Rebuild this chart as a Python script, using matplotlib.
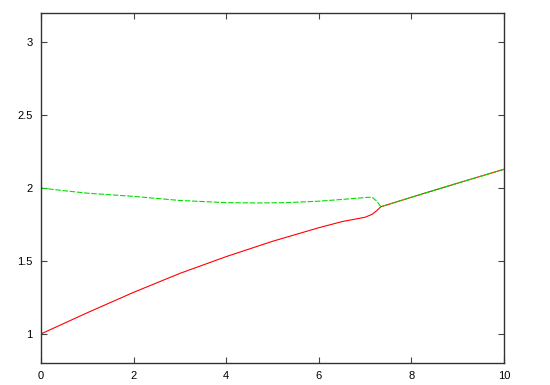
import matplotlib
matplotlib.use("Agg")
import numpy as np
from matplotlib import pyplot as plt

# values
red_x = [0, 1, 2, 3, 4, 5, 6, 6.5, 7, 7.15, 7.25, 7.34, 8, 9, 10]
red_y = [1.0, 1.145, 1.285, 1.415, 1.53, 1.635, 1.728, 1.77, 1.80, 1.82, 1.845, 1.872,
         1.937, 2.034, 2.129]

green_x = [0, 0.5, 1, 2, 3, 4, 4.7, 5.3, 6, 6.5, 7, 7.15, 7.25, 7.34, 8, 9, 10]
green_y = [2.0, 1.982, 1.965, 1.943, 1.915, 1.90, 1.898, 1.90, 1.91, 1.922, 1.935, 1.938,
           1.91, 1.872, 1.937, 2.034, 2.129]

x_ticks = [0, 2, 4, 6, 8, 10]
y_ticks = [1, 1.5, 2, 2.5, 3]
y_labels = ["1", "1.5", "2", "2.5", "3"]

plt.rcParams['font.family'] = ['Liberation Sans', 'DejaVu Sans']

fig = plt.figure(figsize=(5.5, 3.85), dpi=100)
ax = fig.add_axes([0.0745, 0.057, 0.842, 0.909])

ax.plot(red_x, red_y, color='#ff0000', linewidth=0.8)
ax.plot(green_x, green_y, color='#00e000', linewidth=0.8, dashes=(5, 1.5))

ax.set_xlim(0, 10)
ax.set_ylim(0.8, 3.2)
ax.set_xticks(x_ticks)
ax.set_xticklabels([str(t) for t in x_ticks])
ax.set_yticks(y_ticks)
ax.set_yticklabels(y_labels)

ax.tick_params(direction='in', length=4, width=0.8, color='#444444',
               top=True, right=True, labelsize=8, pad=6)
for s in ax.spines.values():
    s.set_color('#333333')
    s.set_linewidth(1.0)

fig.savefig("out.png", dpi=100)
